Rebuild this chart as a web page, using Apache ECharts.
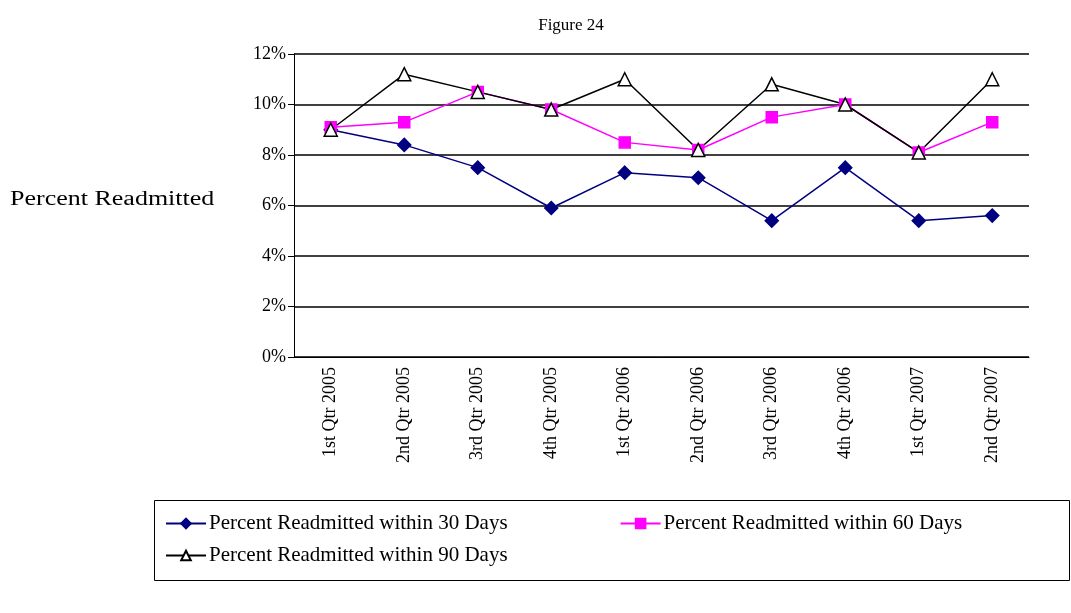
<!DOCTYPE html>
<html>
<head>
<meta charset="utf-8">
<script src="https://cdn.jsdelivr.net/npm/echarts@6/dist/echarts.min.js"></script>
<style>html,body{margin:0;padding:0;background:#fff}#chart{width:1071px;height:613px}</style>
</head>
<body>
<div id="chart"></div>
<script>
var categories = ['1st Qtr 2005', '2nd Qtr 2005', '3rd Qtr 2005', '4th Qtr 2005', '1st Qtr 2006',
    '2nd Qtr 2006', '3rd Qtr 2006', '4th Qtr 2006', '1st Qtr 2007', '2nd Qtr 2007'];
var within30 = [9.0, 8.4, 7.5, 5.9, 7.3, 7.1, 5.4, 7.5, 5.4, 5.6];
var within60 = [9.1, 9.3, 10.5, 9.8, 8.5, 8.2, 9.5, 10.0, 8.1, 9.3];
var within90 = [9.0, 11.2, 10.5, 9.8, 11.0, 8.2, 10.8, 10.0, 8.1, 11.0];
var names = ['Percent Readmitted within 30 Days', 'Percent Readmitted within 60 Days', 'Percent Readmitted within 90 Days'];

var font = 'Times New Roman, Liberation Serif, serif';
var chart = echarts.init(document.getElementById('chart'));

function lineSeries(name, data, color, symbol, symbolColor, size) {
    return {
        name: name,
        type: 'line',
        data: data,
        symbol: symbol,
        symbolSize: size,
        lineStyle: { color: color, width: 1.5 },
        itemStyle: { color: symbolColor, borderColor: color, borderWidth: 1.5 },
        animation: false
    };
}

function legendRow(top, data) {
    return {
        left: 160, top: top, orient: 'horizontal',
        itemGap: 112, itemWidth: 40, itemHeight: 12,
        textStyle: { fontFamily: font, fontSize: 21, color: '#000', padding: [0, 0, 0, -2] },
        data: data
    };
}

chart.setOption({
    textStyle: { fontFamily: font },
    title: {
        text: 'Figure 24', left: 566, top: 12, textAlign: 'center',
        textStyle: { fontFamily: font, fontSize: 17, fontWeight: 'normal', color: '#000' }
    },
    graphic: [{
        type: 'text', x: 10, y: 190, scaleX: 1.3,
        style: { text: 'Percent Readmitted', font: '20px ' + font, fill: '#000' }
    }, {
        type: 'rect', shape: { x: 154.5, y: 500.5, width: 915, height: 80 },
        style: { fill: 'none', stroke: '#000', lineWidth: 1 }
    }],
    grid: { left: 294, right: 42, top: 54, bottom: 256 },
    legend: [legendRow(508, names.slice(0, 2)), legendRow(540, names.slice(2))],
    xAxis: {
        type: 'category', data: categories,
        axisLine: { lineStyle: { color: '#000' } },
        axisTick: { lineStyle: { color: '#000' }, length: 6 },
        axisLabel: { rotate: 90, fontFamily: font, fontSize: 18, color: '#000', margin: 10 }
    },
    yAxis: {
        type: 'value', min: 0, max: 12, interval: 2,
        axisLine: { show: true, lineStyle: { color: '#000' } },
        axisTick: { show: true, lineStyle: { color: '#000' }, length: 6 },
        axisLabel: { formatter: '{value}%', fontFamily: font, fontSize: 18, color: '#000' },
        splitLine: { lineStyle: { color: '#000', width: 1.5 } }
    },
    series: [
        lineSeries(names[0], within30, '#000080', 'diamond', '#000080', 13),
        lineSeries(names[1], within60, '#ff00ff', 'rect', '#ff00ff', 11),
        lineSeries(names[2], within90, '#000', 'triangle', '#fff', 13)
    ]
});
</script>
</body>
</html>
